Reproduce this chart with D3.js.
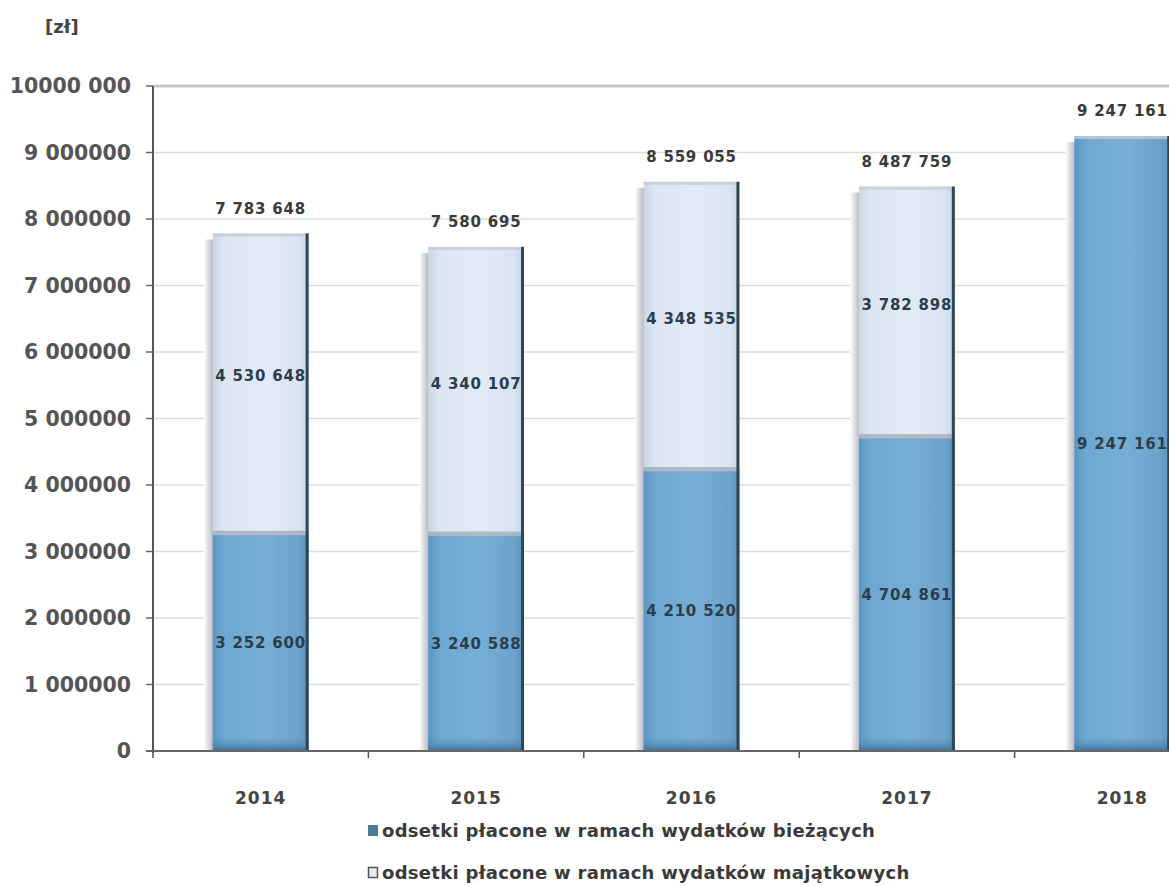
<!DOCTYPE html>
<html><head><meta charset="utf-8">
<script src="https://cdn.jsdelivr.net/npm/d3@7/dist/d3.min.js"></script>
<style>body{margin:0;background:#fff}svg{display:block}</style>
</head><body>
<svg id="chart" width="1169" height="886"></svg>
<script>
const years = ["2014","2015","2016","2017","2018"];
const biezace = [3252600, 3240588, 4210520, 4704861, 9247161];
const majatkowe = [4530648, 4340107, 4348535, 3782898, 0];
const totals = [7783648, 7580695, 8559055, 8487759, 9247161];
const yTicks = [0,1000000,2000000,3000000,4000000,5000000,6000000,7000000,8000000,9000000,10000000];
const yTickLabels = ["0","1 000000","2 000000","3 000000","4 000000","5 000000","6 000000","7 000000","8 000000","9 000000","10000 000"];
const seriesNames = ["odsetki płacone w ramach wydatków bieżących","odsetki płacone w ramach wydatków majątkowych"];
const unitLabel = "[zł]";

const svg = d3.select("#chart");
const defs = svg.append("defs");
const fmt = v => d3.format(",")(v).replace(/,/g, " ");

const x = d3.scaleBand().domain(years).range([153, 1230]).paddingInner(0.555).paddingOuter(0.2775);
const y = d3.scaleLinear().domain([0, 10000000]).range([751, 86]);

// gradients
const gLow = defs.append("linearGradient").attr("id","gLow").attr("x1","0").attr("x2","1").attr("y1","0").attr("y2","0");
[["0%","#5a95c0"],["12%","#6ea8d2"],["55%","#76aed5"],["90%","#6aa2cc"],["100%","#5b92ba"]].forEach(s=>gLow.append("stop").attr("offset",s[0]).attr("stop-color",s[1]));
const gHigh = defs.append("linearGradient").attr("id","gHigh").attr("x1","0").attr("x2","1").attr("y1","0").attr("y2","0");
[["0%","#c9d6e4"],["12%","#dbe6f2"],["55%","#e2ebf6"],["90%","#d9e4f1"],["100%","#c8d4e2"]].forEach(s=>gHigh.append("stop").attr("offset",s[0]).attr("stop-color",s[1]));
const gShadow = defs.append("linearGradient").attr("id","gShadow").attr("x1","0").attr("x2","1").attr("y1","0").attr("y2","0");
[["0%","#ffffff"],["100%","#b4b6bf"]].forEach(s=>gShadow.append("stop").attr("offset",s[0]).attr("stop-color",s[1]));
const gBottom = defs.append("linearGradient").attr("id","gBottom").attr("x1","0").attr("x2","0").attr("y1","0").attr("y2","1");
[["0%","#5a93bd",0],["100%","#3f739a",1]].forEach(s=>gBottom.append("stop").attr("offset",s[0]).attr("stop-color",s[1]).attr("stop-opacity",s[2]));

// gridlines
svg.append("g").selectAll("line").data(yTicks.filter(t=>t>0 && t<10000000)).join("line")
  .attr("x1",153).attr("x2",1169).attr("y1",d=>y(d)).attr("y2",d=>y(d))
  .attr("stroke","#dcdcdc").attr("stroke-width",1.5);
svg.append("line").attr("x1",153).attr("x2",1169).attr("y1",y(10000000)).attr("y2",y(10000000))
  .attr("stroke","#c9cac3").attr("stroke-width",3);

// bars
const bw = x.bandwidth();
const barG = svg.append("g");
years.forEach((yr,i)=>{
  const x0 = x(yr);
  const top = y(biezace[i]+majatkowe[i]);
  barG.append("rect").attr("x",x0-9).attr("y",top+6).attr("width",10).attr("height",y(0)-top-6).attr("fill","url(#gShadow)");
  barG.append("rect").attr("x",x0).attr("y",y(biezace[i])).attr("width",bw).attr("height",y(0)-y(biezace[i])).attr("fill","url(#gLow)");
  barG.append("rect").attr("x",x0).attr("y",y(0)-14).attr("width",bw).attr("height",14).attr("fill","url(#gBottom)");
  if (majatkowe[i]>0) {
    barG.append("rect").attr("x",x0).attr("y",y(biezace[i]+majatkowe[i])).attr("width",bw).attr("height",y(biezace[i])-y(biezace[i]+majatkowe[i])).attr("fill","url(#gHigh)");
    barG.append("rect").attr("x",x0).attr("y",y(biezace[i])-4).attr("width",bw).attr("height",5).attr("fill","#9aa7b4").attr("opacity",0.7);
  }
  barG.append("rect").attr("x",x0).attr("y",top).attr("width",bw).attr("height",3).attr("fill","#c4ccd6").attr("opacity",0.8);
  barG.append("rect").attr("x",x0+bw-3).attr("y",top).attr("width",3).attr("height",y(0)-top).attr("fill","#2f4656");
});

// axes
svg.append("line").attr("x1",153).attr("x2",153).attr("y1",86).attr("y2",753).attr("stroke","#555").attr("stroke-width",2);
svg.append("line").attr("x1",146).attr("x2",1169).attr("y1",751).attr("y2",751).attr("stroke","#666").attr("stroke-width",2);
svg.append("g").selectAll("line").data(yTicks).join("line")
  .attr("x1",146).attr("x2",153).attr("y1",d=>y(d)).attr("y2",d=>y(d)).attr("stroke","#666").attr("stroke-width",1.5);
const bounds = years.map(d=>x(d)-x.step()*x.paddingInner()/2).concat([x(years[4])+bw+x.step()*x.paddingInner()/2]);
svg.append("g").selectAll("line").data(bounds.filter(b=>b<1169)).join("line")
  .attr("x1",d=>d).attr("x2",d=>d).attr("y1",751).attr("y2",758).attr("stroke","#555").attr("stroke-width",1.5);

// y tick labels
svg.append("g").selectAll("text").data(yTicks).join("text")
  .attr("x",131).attr("y",d=>y(d)).attr("dy","0.36em").attr("text-anchor","end")
  .attr("font-family","DejaVu Sans").attr("font-weight","bold").attr("font-size",20.5)
  .attr("fill","#555").text((d,i)=>yTickLabels[i]);

// x labels
svg.append("g").selectAll("text").data(years).join("text")
  .attr("x",d=>x(d)+bw/2).attr("y",798).attr("dy","0.36em").attr("text-anchor","middle")
  .attr("font-family","DejaVu Sans").attr("font-weight","bold").attr("font-size",17).attr("letter-spacing",1)
  .attr("fill","#444").text(d=>d);

// value labels
const lab = (xx,yy,t,c)=>svg.append("text").attr("x",xx).attr("y",yy).attr("dy","0.36em").attr("text-anchor","middle")
  .attr("font-family","DejaVu Sans").attr("font-weight","bold").attr("font-size",15).attr("letter-spacing",0.8)
  .attr("fill",c).text(t);
years.forEach((yr,i)=>{
  const cx = x(yr)+bw/2;
  lab(cx, (y(0)+y(biezace[i]))/2, fmt(biezace[i]), "#2c3e4c");
  if (majatkowe[i]>0) lab(cx, (y(biezace[i])+y(biezace[i]+majatkowe[i]))/2 - 8, fmt(majatkowe[i]), "#2c3e4c");
  lab(cx, y(biezace[i]+majatkowe[i]) - 25, fmt(totals[i]), "#3a3a3a");
});

// unit
svg.append("text").attr("x",45).attr("y",27).attr("dy","0.36em")
  .attr("font-family","DejaVu Sans").attr("font-weight","bold").attr("font-size",18).attr("fill","#444").text(unitLabel);

// legend
const leg = svg.append("g");
leg.append("rect").attr("x",368).attr("y",825).attr("width",10).attr("height",11).attr("fill","#4b7d98");
leg.append("rect").attr("x",368.5).attr("y",867.5).attr("width",9).attr("height",10).attr("fill","#e4ecf5").attr("stroke","#555").attr("stroke-width",1.5);
seriesNames.forEach((n,i)=>{
  leg.append("text").attr("x",382).attr("y",831+i*42).attr("dy","0.36em")
    .attr("font-family","DejaVu Sans").attr("font-weight","bold").attr("font-size",18).attr("letter-spacing",0.3)
    .attr("fill","#3a3a3a").text(n);
});
</script>
</body></html>
